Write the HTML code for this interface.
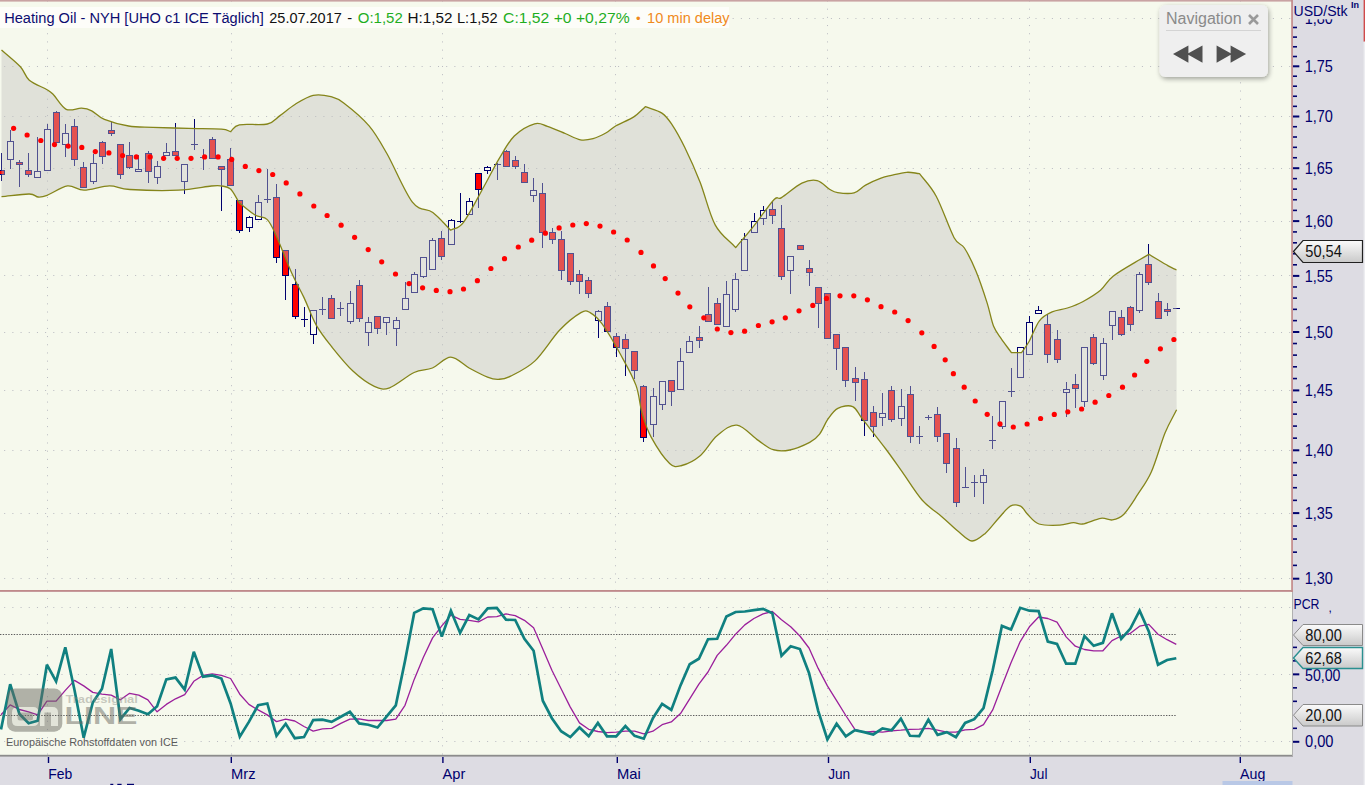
<!DOCTYPE html><html><head><meta charset="utf-8"><style>
html,body{margin:0;padding:0;width:1365px;height:785px;overflow:hidden;background:#dddce3;}
svg{display:block;font-family:"Liberation Sans", sans-serif;}
</style></head><body>
<svg width="1365" height="785" viewBox="0 0 1365 785">
<rect x="0" y="0" width="1365" height="785" fill="#dddce3"/>
<rect x="0" y="0" width="1292" height="591" fill="#f6f9ed"/>
<rect x="0" y="592" width="1292" height="164" fill="#f6f9ed"/>
<defs><clipPath id="osc"><rect x="0" y="593" width="1292" height="162"/></clipPath></defs>
<g stroke="#b9bac0" stroke-width="1" fill="none">
<line x1="4.2" y1="18.5" x2="1291" y2="18.5" stroke-dasharray="1 7.185"/>
<line x1="4.2" y1="66.5" x2="1291" y2="66.5" stroke-dasharray="1 7.185"/>
<line x1="4.2" y1="116.5" x2="1291" y2="116.5" stroke-dasharray="1 7.185"/>
<line x1="4.2" y1="168.5" x2="1291" y2="168.5" stroke-dasharray="1 7.185"/>
<line x1="4.2" y1="221.5" x2="1291" y2="221.5" stroke-dasharray="1 7.185"/>
<line x1="4.2" y1="275.5" x2="1291" y2="275.5" stroke-dasharray="1 7.185"/>
<line x1="4.2" y1="332.5" x2="1291" y2="332.5" stroke-dasharray="1 7.185"/>
<line x1="4.2" y1="390.5" x2="1291" y2="390.5" stroke-dasharray="1 7.185"/>
<line x1="4.2" y1="450.5" x2="1291" y2="450.5" stroke-dasharray="1 7.185"/>
<line x1="4.2" y1="513.5" x2="1291" y2="513.5" stroke-dasharray="1 7.185"/>
<line x1="4.2" y1="578.5" x2="1291" y2="578.5" stroke-dasharray="1 7.185"/>
<line x1="47.5" y1="0.5" x2="47.5" y2="590" stroke-dasharray="1 7.185"/>
<line x1="231.5" y1="0.5" x2="231.5" y2="590" stroke-dasharray="1 7.185"/>
<line x1="442.5" y1="0.5" x2="442.5" y2="590" stroke-dasharray="1 7.185"/>
<line x1="615.5" y1="0.5" x2="615.5" y2="590" stroke-dasharray="1 7.185"/>
<line x1="827.5" y1="0.5" x2="827.5" y2="590" stroke-dasharray="1 7.185"/>
<line x1="1029.5" y1="0.5" x2="1029.5" y2="590" stroke-dasharray="1 7.185"/>
<line x1="1240.5" y1="0.5" x2="1240.5" y2="590" stroke-dasharray="1 7.185"/>
<line x1="4.2" y1="607.5" x2="1291" y2="607.5" stroke-dasharray="1 7.185"/>
<line x1="4.2" y1="674.5" x2="1291" y2="674.5" stroke-dasharray="1 7.185"/>
<line x1="4.2" y1="741.5" x2="1291" y2="741.5" stroke-dasharray="1 7.185"/>
<line x1="47.5" y1="0.5" x2="47.5" y2="755" stroke-dasharray="1 7.185" clip-path="url(#osc)"/>
<line x1="231.5" y1="0.5" x2="231.5" y2="755" stroke-dasharray="1 7.185" clip-path="url(#osc)"/>
<line x1="442.5" y1="0.5" x2="442.5" y2="755" stroke-dasharray="1 7.185" clip-path="url(#osc)"/>
<line x1="615.5" y1="0.5" x2="615.5" y2="755" stroke-dasharray="1 7.185" clip-path="url(#osc)"/>
<line x1="827.5" y1="0.5" x2="827.5" y2="755" stroke-dasharray="1 7.185" clip-path="url(#osc)"/>
<line x1="1029.5" y1="0.5" x2="1029.5" y2="755" stroke-dasharray="1 7.185" clip-path="url(#osc)"/>
<line x1="1240.5" y1="0.5" x2="1240.5" y2="755" stroke-dasharray="1 7.185" clip-path="url(#osc)"/>
</g>
<rect x="0" y="7" width="729" height="21" fill="#fdfdf9"/>
<g shape-rendering="crispEdges">
<rect x="1" y="153" width="1" height="28" fill="#00006e"/>
<rect x="-2" y="170" width="7" height="5" fill="#00006e"/>
<rect x="-1" y="171" width="5" height="3" fill="#ff0000"/>
<rect x="10" y="130" width="1" height="39" fill="#00006e"/>
<rect x="7" y="141" width="7" height="19" fill="#00006e"/>
<rect x="8" y="142" width="5" height="17" fill="#fbfcf3"/>
<rect x="19" y="160" width="1" height="27" fill="#00006e"/>
<rect x="16" y="162" width="7" height="3" fill="#00006e"/>
<rect x="17" y="163" width="5" height="1" fill="#ff0000"/>
<rect x="28" y="153" width="1" height="24" fill="#00006e"/>
<rect x="25" y="170" width="7" height="5" fill="#00006e"/>
<rect x="26" y="171" width="5" height="3" fill="#ff0000"/>
<rect x="37" y="137" width="1" height="40" fill="#00006e"/>
<rect x="34" y="171" width="7" height="7" fill="#00006e"/>
<rect x="35" y="172" width="5" height="5" fill="#fbfcf3"/>
<rect x="47" y="124" width="1" height="46" fill="#00006e"/>
<rect x="44" y="129" width="7" height="42" fill="#00006e"/>
<rect x="45" y="130" width="5" height="40" fill="#fbfcf3"/>
<rect x="56" y="111" width="1" height="32" fill="#00006e"/>
<rect x="53" y="112" width="7" height="31" fill="#00006e"/>
<rect x="54" y="113" width="5" height="29" fill="#ff0000"/>
<rect x="65" y="124" width="1" height="33" fill="#00006e"/>
<rect x="62" y="133" width="7" height="12" fill="#00006e"/>
<rect x="63" y="134" width="5" height="10" fill="#fbfcf3"/>
<rect x="74" y="119" width="1" height="47" fill="#00006e"/>
<rect x="71" y="126" width="7" height="34" fill="#00006e"/>
<rect x="72" y="127" width="5" height="32" fill="#ff0000"/>
<rect x="83" y="162" width="1" height="25" fill="#00006e"/>
<rect x="80" y="167" width="7" height="21" fill="#00006e"/>
<rect x="81" y="168" width="5" height="19" fill="#ff0000"/>
<rect x="93" y="154" width="1" height="30" fill="#00006e"/>
<rect x="90" y="163" width="7" height="19" fill="#00006e"/>
<rect x="91" y="164" width="5" height="17" fill="#fbfcf3"/>
<rect x="102" y="141" width="1" height="23" fill="#00006e"/>
<rect x="99" y="142" width="7" height="15" fill="#00006e"/>
<rect x="100" y="143" width="5" height="13" fill="#ff0000"/>
<rect x="111" y="122" width="1" height="14" fill="#00006e"/>
<rect x="108" y="130" width="7" height="4" fill="#00006e"/>
<rect x="109" y="131" width="5" height="2" fill="#ff0000"/>
<rect x="120" y="144" width="1" height="35" fill="#00006e"/>
<rect x="117" y="144" width="7" height="31" fill="#00006e"/>
<rect x="118" y="145" width="5" height="29" fill="#ff0000"/>
<rect x="129" y="142" width="1" height="27" fill="#00006e"/>
<rect x="126" y="155" width="7" height="13" fill="#00006e"/>
<rect x="127" y="156" width="5" height="11" fill="#ff0000"/>
<rect x="138" y="155" width="1" height="16" fill="#00006e"/>
<rect x="135" y="169" width="7" height="3" fill="#00006e"/>
<rect x="136" y="170" width="5" height="1" fill="#fbfcf3"/>
<rect x="148" y="151" width="1" height="32" fill="#00006e"/>
<rect x="145" y="153" width="7" height="19" fill="#00006e"/>
<rect x="146" y="154" width="5" height="17" fill="#ff0000"/>
<rect x="157" y="161" width="1" height="23" fill="#00006e"/>
<rect x="154" y="166" width="7" height="12" fill="#00006e"/>
<rect x="155" y="167" width="5" height="10" fill="#fbfcf3"/>
<rect x="166" y="143" width="1" height="12" fill="#00006e"/>
<rect x="163" y="152" width="7" height="4" fill="#00006e"/>
<rect x="164" y="153" width="5" height="2" fill="#fbfcf3"/>
<rect x="175" y="123" width="1" height="32" fill="#00006e"/>
<rect x="172" y="151" width="7" height="5" fill="#00006e"/>
<rect x="173" y="152" width="5" height="3" fill="#ff0000"/>
<rect x="184" y="164" width="1" height="30" fill="#00006e"/>
<rect x="181" y="164" width="7" height="18" fill="#00006e"/>
<rect x="182" y="165" width="5" height="16" fill="#fbfcf3"/>
<rect x="194" y="119" width="1" height="31" fill="#00006e"/>
<rect x="191" y="144" width="7" height="1" fill="#00006e"/>
<rect x="203" y="149" width="1" height="21" fill="#00006e"/>
<rect x="200" y="157" width="7" height="1" fill="#00006e"/>
<rect x="212" y="137" width="1" height="22" fill="#00006e"/>
<rect x="209" y="139" width="7" height="20" fill="#00006e"/>
<rect x="210" y="140" width="5" height="18" fill="#ff0000"/>
<rect x="221" y="166" width="1" height="45" fill="#00006e"/>
<rect x="218" y="166" width="7" height="4" fill="#00006e"/>
<rect x="219" y="167" width="5" height="2" fill="#ff0000"/>
<rect x="230" y="148" width="1" height="37" fill="#00006e"/>
<rect x="227" y="159" width="7" height="27" fill="#00006e"/>
<rect x="228" y="160" width="5" height="25" fill="#ff0000"/>
<rect x="239" y="200" width="1" height="33" fill="#00006e"/>
<rect x="236" y="200" width="7" height="31" fill="#00006e"/>
<rect x="237" y="201" width="5" height="29" fill="#ff0000"/>
<rect x="249" y="216" width="1" height="16" fill="#00006e"/>
<rect x="246" y="217" width="7" height="11" fill="#00006e"/>
<rect x="247" y="218" width="5" height="9" fill="#fbfcf3"/>
<rect x="258" y="195" width="1" height="24" fill="#00006e"/>
<rect x="255" y="202" width="7" height="18" fill="#00006e"/>
<rect x="256" y="203" width="5" height="16" fill="#fbfcf3"/>
<rect x="267" y="169" width="1" height="34" fill="#00006e"/>
<rect x="264" y="199" width="7" height="1" fill="#00006e"/>
<rect x="276" y="184" width="1" height="79" fill="#00006e"/>
<rect x="273" y="197" width="7" height="61" fill="#00006e"/>
<rect x="274" y="198" width="5" height="59" fill="#ff0000"/>
<rect x="285" y="250" width="1" height="50" fill="#00006e"/>
<rect x="282" y="250" width="7" height="26" fill="#00006e"/>
<rect x="283" y="251" width="5" height="24" fill="#ff0000"/>
<rect x="295" y="269" width="1" height="50" fill="#00006e"/>
<rect x="292" y="284" width="7" height="33" fill="#00006e"/>
<rect x="293" y="285" width="5" height="31" fill="#ff0000"/>
<rect x="304" y="307" width="1" height="20" fill="#00006e"/>
<rect x="301" y="319" width="7" height="1" fill="#00006e"/>
<rect x="313" y="310" width="1" height="34" fill="#00006e"/>
<rect x="310" y="310" width="7" height="25" fill="#00006e"/>
<rect x="311" y="311" width="5" height="23" fill="#fbfcf3"/>
<rect x="322" y="297" width="1" height="18" fill="#00006e"/>
<rect x="319" y="309" width="7" height="1" fill="#00006e"/>
<rect x="331" y="295" width="1" height="24" fill="#00006e"/>
<rect x="328" y="298" width="7" height="21" fill="#00006e"/>
<rect x="329" y="299" width="5" height="19" fill="#ff0000"/>
<rect x="340" y="302" width="1" height="14" fill="#00006e"/>
<rect x="337" y="308" width="7" height="1" fill="#00006e"/>
<rect x="350" y="291" width="1" height="33" fill="#00006e"/>
<rect x="347" y="303" width="7" height="19" fill="#00006e"/>
<rect x="348" y="304" width="5" height="17" fill="#fbfcf3"/>
<rect x="359" y="280" width="1" height="42" fill="#00006e"/>
<rect x="356" y="285" width="7" height="34" fill="#00006e"/>
<rect x="357" y="286" width="5" height="32" fill="#ff0000"/>
<rect x="368" y="317" width="1" height="29" fill="#00006e"/>
<rect x="365" y="322" width="7" height="11" fill="#00006e"/>
<rect x="366" y="323" width="5" height="9" fill="#fbfcf3"/>
<rect x="377" y="316" width="1" height="18" fill="#00006e"/>
<rect x="374" y="316" width="7" height="13" fill="#00006e"/>
<rect x="375" y="317" width="5" height="11" fill="#ff0000"/>
<rect x="386" y="317" width="1" height="18" fill="#00006e"/>
<rect x="383" y="317" width="7" height="6" fill="#00006e"/>
<rect x="384" y="318" width="5" height="4" fill="#fbfcf3"/>
<rect x="396" y="317" width="1" height="29" fill="#00006e"/>
<rect x="393" y="320" width="7" height="9" fill="#00006e"/>
<rect x="394" y="321" width="5" height="7" fill="#fbfcf3"/>
<rect x="405" y="282" width="1" height="27" fill="#00006e"/>
<rect x="402" y="298" width="7" height="12" fill="#00006e"/>
<rect x="403" y="299" width="5" height="10" fill="#fbfcf3"/>
<rect x="414" y="272" width="1" height="20" fill="#00006e"/>
<rect x="411" y="274" width="7" height="19" fill="#00006e"/>
<rect x="412" y="275" width="5" height="17" fill="#fbfcf3"/>
<rect x="423" y="257" width="1" height="21" fill="#00006e"/>
<rect x="420" y="257" width="7" height="20" fill="#00006e"/>
<rect x="421" y="258" width="5" height="18" fill="#fbfcf3"/>
<rect x="432" y="238" width="1" height="31" fill="#00006e"/>
<rect x="429" y="240" width="7" height="30" fill="#00006e"/>
<rect x="430" y="241" width="5" height="28" fill="#fbfcf3"/>
<rect x="441" y="231" width="1" height="29" fill="#00006e"/>
<rect x="438" y="238" width="7" height="19" fill="#00006e"/>
<rect x="439" y="239" width="5" height="17" fill="#ff0000"/>
<rect x="451" y="219" width="1" height="25" fill="#00006e"/>
<rect x="448" y="220" width="7" height="25" fill="#00006e"/>
<rect x="449" y="221" width="5" height="23" fill="#fbfcf3"/>
<rect x="460" y="193" width="1" height="30" fill="#00006e"/>
<rect x="457" y="221" width="7" height="1" fill="#00006e"/>
<rect x="469" y="198" width="1" height="16" fill="#00006e"/>
<rect x="466" y="201" width="7" height="14" fill="#00006e"/>
<rect x="467" y="202" width="5" height="12" fill="#fbfcf3"/>
<rect x="478" y="173" width="1" height="35" fill="#00006e"/>
<rect x="475" y="173" width="7" height="17" fill="#00006e"/>
<rect x="476" y="174" width="5" height="15" fill="#ff0000"/>
<rect x="487" y="166" width="1" height="8" fill="#00006e"/>
<rect x="484" y="167" width="7" height="4" fill="#00006e"/>
<rect x="485" y="168" width="5" height="2" fill="#fbfcf3"/>
<rect x="497" y="163" width="1" height="17" fill="#00006e"/>
<rect x="494" y="164" width="7" height="1" fill="#00006e"/>
<rect x="506" y="150" width="1" height="16" fill="#00006e"/>
<rect x="503" y="151" width="7" height="16" fill="#00006e"/>
<rect x="504" y="152" width="5" height="14" fill="#ff0000"/>
<rect x="515" y="156" width="1" height="13" fill="#00006e"/>
<rect x="512" y="160" width="7" height="7" fill="#00006e"/>
<rect x="513" y="161" width="5" height="5" fill="#ff0000"/>
<rect x="524" y="164" width="1" height="18" fill="#00006e"/>
<rect x="521" y="172" width="7" height="11" fill="#00006e"/>
<rect x="522" y="173" width="5" height="9" fill="#ff0000"/>
<rect x="533" y="178" width="1" height="24" fill="#00006e"/>
<rect x="530" y="190" width="7" height="6" fill="#00006e"/>
<rect x="531" y="191" width="5" height="4" fill="#fbfcf3"/>
<rect x="542" y="183" width="1" height="65" fill="#00006e"/>
<rect x="539" y="193" width="7" height="40" fill="#00006e"/>
<rect x="540" y="194" width="5" height="38" fill="#ff0000"/>
<rect x="552" y="228" width="1" height="16" fill="#00006e"/>
<rect x="549" y="232" width="7" height="8" fill="#00006e"/>
<rect x="550" y="233" width="5" height="6" fill="#ff0000"/>
<rect x="561" y="231" width="1" height="49" fill="#00006e"/>
<rect x="558" y="239" width="7" height="32" fill="#00006e"/>
<rect x="559" y="240" width="5" height="30" fill="#ff0000"/>
<rect x="570" y="253" width="1" height="32" fill="#00006e"/>
<rect x="567" y="253" width="7" height="29" fill="#00006e"/>
<rect x="568" y="254" width="5" height="27" fill="#ff0000"/>
<rect x="579" y="270" width="1" height="24" fill="#00006e"/>
<rect x="576" y="274" width="7" height="8" fill="#00006e"/>
<rect x="577" y="275" width="5" height="6" fill="#ff0000"/>
<rect x="588" y="277" width="1" height="21" fill="#00006e"/>
<rect x="585" y="280" width="7" height="14" fill="#00006e"/>
<rect x="586" y="281" width="5" height="12" fill="#ff0000"/>
<rect x="598" y="310" width="1" height="28" fill="#00006e"/>
<rect x="595" y="311" width="7" height="10" fill="#00006e"/>
<rect x="596" y="312" width="5" height="8" fill="#fbfcf3"/>
<rect x="607" y="302" width="1" height="29" fill="#00006e"/>
<rect x="604" y="306" width="7" height="26" fill="#00006e"/>
<rect x="605" y="307" width="5" height="24" fill="#ff0000"/>
<rect x="616" y="333" width="1" height="24" fill="#00006e"/>
<rect x="613" y="336" width="7" height="12" fill="#00006e"/>
<rect x="614" y="337" width="5" height="10" fill="#ff0000"/>
<rect x="625" y="334" width="1" height="42" fill="#00006e"/>
<rect x="622" y="339" width="7" height="10" fill="#00006e"/>
<rect x="623" y="340" width="5" height="8" fill="#ff0000"/>
<rect x="634" y="351" width="1" height="28" fill="#00006e"/>
<rect x="631" y="351" width="7" height="20" fill="#00006e"/>
<rect x="632" y="352" width="5" height="18" fill="#ff0000"/>
<rect x="643" y="385" width="1" height="57" fill="#00006e"/>
<rect x="640" y="386" width="7" height="52" fill="#00006e"/>
<rect x="641" y="387" width="5" height="50" fill="#ff0000"/>
<rect x="653" y="388" width="1" height="49" fill="#00006e"/>
<rect x="650" y="396" width="7" height="29" fill="#00006e"/>
<rect x="651" y="397" width="5" height="27" fill="#fbfcf3"/>
<rect x="662" y="381" width="1" height="29" fill="#00006e"/>
<rect x="659" y="381" width="7" height="24" fill="#00006e"/>
<rect x="660" y="382" width="5" height="22" fill="#fbfcf3"/>
<rect x="671" y="380" width="1" height="26" fill="#00006e"/>
<rect x="668" y="380" width="7" height="12" fill="#00006e"/>
<rect x="669" y="381" width="5" height="10" fill="#ff0000"/>
<rect x="680" y="348" width="1" height="41" fill="#00006e"/>
<rect x="677" y="361" width="7" height="29" fill="#00006e"/>
<rect x="678" y="362" width="5" height="27" fill="#fbfcf3"/>
<rect x="689" y="336" width="1" height="16" fill="#00006e"/>
<rect x="686" y="341" width="7" height="12" fill="#00006e"/>
<rect x="687" y="342" width="5" height="10" fill="#fbfcf3"/>
<rect x="699" y="326" width="1" height="22" fill="#00006e"/>
<rect x="696" y="337" width="7" height="4" fill="#00006e"/>
<rect x="697" y="338" width="5" height="2" fill="#ff0000"/>
<rect x="708" y="287" width="1" height="34" fill="#00006e"/>
<rect x="705" y="314" width="7" height="8" fill="#00006e"/>
<rect x="706" y="315" width="5" height="6" fill="#ff0000"/>
<rect x="717" y="298" width="1" height="26" fill="#00006e"/>
<rect x="714" y="303" width="7" height="22" fill="#00006e"/>
<rect x="715" y="304" width="5" height="20" fill="#ff0000"/>
<rect x="726" y="281" width="1" height="45" fill="#00006e"/>
<rect x="723" y="294" width="7" height="33" fill="#00006e"/>
<rect x="724" y="295" width="5" height="31" fill="#fbfcf3"/>
<rect x="735" y="273" width="1" height="39" fill="#00006e"/>
<rect x="732" y="279" width="7" height="31" fill="#00006e"/>
<rect x="733" y="280" width="5" height="29" fill="#fbfcf3"/>
<rect x="744" y="233" width="1" height="37" fill="#00006e"/>
<rect x="741" y="239" width="7" height="32" fill="#00006e"/>
<rect x="742" y="240" width="5" height="30" fill="#fbfcf3"/>
<rect x="754" y="213" width="1" height="19" fill="#00006e"/>
<rect x="751" y="221" width="7" height="12" fill="#00006e"/>
<rect x="752" y="222" width="5" height="10" fill="#fbfcf3"/>
<rect x="763" y="206" width="1" height="19" fill="#00006e"/>
<rect x="760" y="210" width="7" height="9" fill="#00006e"/>
<rect x="761" y="211" width="5" height="7" fill="#fbfcf3"/>
<rect x="772" y="202" width="1" height="22" fill="#00006e"/>
<rect x="769" y="209" width="7" height="7" fill="#00006e"/>
<rect x="770" y="210" width="5" height="5" fill="#ff0000"/>
<rect x="781" y="205" width="1" height="75" fill="#00006e"/>
<rect x="778" y="228" width="7" height="49" fill="#00006e"/>
<rect x="779" y="229" width="5" height="47" fill="#ff0000"/>
<rect x="790" y="256" width="1" height="38" fill="#00006e"/>
<rect x="787" y="256" width="7" height="15" fill="#00006e"/>
<rect x="788" y="257" width="5" height="13" fill="#fbfcf3"/>
<rect x="800" y="245" width="1" height="4" fill="#00006e"/>
<rect x="797" y="245" width="7" height="5" fill="#00006e"/>
<rect x="798" y="246" width="5" height="3" fill="#ff0000"/>
<rect x="809" y="260" width="1" height="26" fill="#00006e"/>
<rect x="806" y="268" width="7" height="5" fill="#00006e"/>
<rect x="807" y="269" width="5" height="3" fill="#ff0000"/>
<rect x="818" y="287" width="1" height="41" fill="#00006e"/>
<rect x="815" y="287" width="7" height="17" fill="#00006e"/>
<rect x="816" y="288" width="5" height="15" fill="#ff0000"/>
<rect x="827" y="293" width="1" height="45" fill="#00006e"/>
<rect x="824" y="293" width="7" height="46" fill="#00006e"/>
<rect x="825" y="294" width="5" height="44" fill="#ff0000"/>
<rect x="836" y="334" width="1" height="36" fill="#00006e"/>
<rect x="833" y="334" width="7" height="15" fill="#00006e"/>
<rect x="834" y="335" width="5" height="13" fill="#ff0000"/>
<rect x="845" y="347" width="1" height="40" fill="#00006e"/>
<rect x="842" y="347" width="7" height="34" fill="#00006e"/>
<rect x="843" y="348" width="5" height="32" fill="#ff0000"/>
<rect x="855" y="367" width="1" height="34" fill="#00006e"/>
<rect x="852" y="378" width="7" height="5" fill="#00006e"/>
<rect x="853" y="379" width="5" height="3" fill="#ff0000"/>
<rect x="864" y="372" width="1" height="64" fill="#00006e"/>
<rect x="861" y="379" width="7" height="42" fill="#00006e"/>
<rect x="862" y="380" width="5" height="40" fill="#ff0000"/>
<rect x="873" y="406" width="1" height="31" fill="#00006e"/>
<rect x="870" y="412" width="7" height="15" fill="#00006e"/>
<rect x="871" y="413" width="5" height="13" fill="#ff0000"/>
<rect x="882" y="393" width="1" height="33" fill="#00006e"/>
<rect x="879" y="413" width="7" height="5" fill="#00006e"/>
<rect x="880" y="414" width="5" height="3" fill="#fbfcf3"/>
<rect x="891" y="386" width="1" height="36" fill="#00006e"/>
<rect x="888" y="390" width="7" height="30" fill="#00006e"/>
<rect x="889" y="391" width="5" height="28" fill="#ff0000"/>
<rect x="901" y="389" width="1" height="37" fill="#00006e"/>
<rect x="898" y="406" width="7" height="13" fill="#00006e"/>
<rect x="899" y="407" width="5" height="11" fill="#fbfcf3"/>
<rect x="910" y="386" width="1" height="57" fill="#00006e"/>
<rect x="907" y="394" width="7" height="43" fill="#00006e"/>
<rect x="908" y="395" width="5" height="41" fill="#ff0000"/>
<rect x="919" y="426" width="1" height="18" fill="#00006e"/>
<rect x="916" y="436" width="7" height="1" fill="#00006e"/>
<rect x="928" y="415" width="1" height="5" fill="#00006e"/>
<rect x="925" y="417" width="7" height="1" fill="#00006e"/>
<rect x="937" y="407" width="1" height="35" fill="#00006e"/>
<rect x="934" y="414" width="7" height="23" fill="#00006e"/>
<rect x="935" y="415" width="5" height="21" fill="#ff0000"/>
<rect x="946" y="433" width="1" height="40" fill="#00006e"/>
<rect x="943" y="433" width="7" height="31" fill="#00006e"/>
<rect x="944" y="434" width="5" height="29" fill="#ff0000"/>
<rect x="956" y="438" width="1" height="69" fill="#00006e"/>
<rect x="953" y="448" width="7" height="55" fill="#00006e"/>
<rect x="954" y="449" width="5" height="53" fill="#ff0000"/>
<rect x="965" y="467" width="1" height="21" fill="#00006e"/>
<rect x="962" y="487" width="7" height="1" fill="#00006e"/>
<rect x="974" y="475" width="1" height="22" fill="#00006e"/>
<rect x="971" y="482" width="7" height="1" fill="#00006e"/>
<rect x="983" y="469" width="1" height="35" fill="#00006e"/>
<rect x="980" y="475" width="7" height="8" fill="#00006e"/>
<rect x="981" y="476" width="5" height="6" fill="#fbfcf3"/>
<rect x="992" y="416" width="1" height="33" fill="#00006e"/>
<rect x="989" y="440" width="7" height="1" fill="#00006e"/>
<rect x="1002" y="401" width="1" height="28" fill="#00006e"/>
<rect x="999" y="401" width="7" height="26" fill="#00006e"/>
<rect x="1000" y="402" width="5" height="24" fill="#fbfcf3"/>
<rect x="1011" y="368" width="1" height="29" fill="#00006e"/>
<rect x="1008" y="391" width="7" height="1" fill="#00006e"/>
<rect x="1020" y="347" width="1" height="30" fill="#00006e"/>
<rect x="1017" y="347" width="7" height="31" fill="#00006e"/>
<rect x="1018" y="348" width="5" height="29" fill="#fbfcf3"/>
<rect x="1029" y="316" width="1" height="38" fill="#00006e"/>
<rect x="1026" y="322" width="7" height="33" fill="#00006e"/>
<rect x="1027" y="323" width="5" height="31" fill="#fbfcf3"/>
<rect x="1038" y="306" width="1" height="7" fill="#00006e"/>
<rect x="1035" y="310" width="7" height="4" fill="#00006e"/>
<rect x="1036" y="311" width="5" height="2" fill="#fbfcf3"/>
<rect x="1047" y="314" width="1" height="49" fill="#00006e"/>
<rect x="1044" y="324" width="7" height="31" fill="#00006e"/>
<rect x="1045" y="325" width="5" height="29" fill="#ff0000"/>
<rect x="1057" y="330" width="1" height="33" fill="#00006e"/>
<rect x="1054" y="339" width="7" height="21" fill="#00006e"/>
<rect x="1055" y="340" width="5" height="19" fill="#ff0000"/>
<rect x="1066" y="382" width="1" height="35" fill="#00006e"/>
<rect x="1063" y="389" width="7" height="4" fill="#00006e"/>
<rect x="1064" y="390" width="5" height="2" fill="#fbfcf3"/>
<rect x="1075" y="374" width="1" height="34" fill="#00006e"/>
<rect x="1072" y="384" width="7" height="5" fill="#00006e"/>
<rect x="1073" y="385" width="5" height="3" fill="#ff0000"/>
<rect x="1084" y="347" width="1" height="60" fill="#00006e"/>
<rect x="1081" y="347" width="7" height="55" fill="#00006e"/>
<rect x="1082" y="348" width="5" height="53" fill="#fbfcf3"/>
<rect x="1093" y="334" width="1" height="31" fill="#00006e"/>
<rect x="1090" y="337" width="7" height="27" fill="#00006e"/>
<rect x="1091" y="338" width="5" height="25" fill="#ff0000"/>
<rect x="1103" y="338" width="1" height="42" fill="#00006e"/>
<rect x="1100" y="343" width="7" height="33" fill="#00006e"/>
<rect x="1101" y="344" width="5" height="31" fill="#fbfcf3"/>
<rect x="1112" y="311" width="1" height="29" fill="#00006e"/>
<rect x="1109" y="311" width="7" height="15" fill="#00006e"/>
<rect x="1110" y="312" width="5" height="13" fill="#fbfcf3"/>
<rect x="1121" y="310" width="1" height="26" fill="#00006e"/>
<rect x="1118" y="317" width="7" height="18" fill="#00006e"/>
<rect x="1119" y="318" width="5" height="16" fill="#ff0000"/>
<rect x="1130" y="306" width="1" height="25" fill="#00006e"/>
<rect x="1127" y="307" width="7" height="18" fill="#00006e"/>
<rect x="1128" y="308" width="5" height="16" fill="#ff0000"/>
<rect x="1139" y="272" width="1" height="41" fill="#00006e"/>
<rect x="1136" y="274" width="7" height="37" fill="#00006e"/>
<rect x="1137" y="275" width="5" height="35" fill="#fbfcf3"/>
<rect x="1148" y="244" width="1" height="41" fill="#00006e"/>
<rect x="1145" y="264" width="7" height="19" fill="#00006e"/>
<rect x="1146" y="265" width="5" height="17" fill="#ff0000"/>
<rect x="1158" y="293" width="1" height="25" fill="#00006e"/>
<rect x="1155" y="301" width="7" height="18" fill="#00006e"/>
<rect x="1156" y="302" width="5" height="16" fill="#ff0000"/>
<rect x="1167" y="303" width="1" height="13" fill="#00006e"/>
<rect x="1164" y="309" width="7" height="3" fill="#00006e"/>
<rect x="1165" y="310" width="5" height="1" fill="#ff0000"/>
<rect x="1176" y="308" width="1" height="1" fill="#00006e"/>
<rect x="1173" y="308" width="7" height="1" fill="#00006e"/>
</g>
<path d="M1.5,49.9 C7.8,55.5 15.8,61.7 20.4,66.7 C25.0,71.8 24.9,76.4 29.3,80.2 C33.8,84.0 43.1,87.3 47.1,89.7 C51.1,92.1 50.3,91.5 53.5,94.8 C56.7,98.1 61.5,107.1 66.2,109.3 C70.9,111.5 77.2,108.0 81.5,108.2 C85.8,108.5 87.9,108.9 91.7,110.8 C95.5,112.7 98.2,116.9 104.4,119.4 C110.6,121.9 120.5,124.7 128.6,126.0 C136.7,127.3 142.8,126.9 152.8,127.3 C162.8,127.7 177.0,128.1 188.4,128.4 C199.8,128.7 214.5,128.6 221.5,129.1 C228.5,129.6 227.5,130.8 230.5,131.7 C233.5,129.4 233.2,126.1 239.4,124.8 C245.6,123.5 260.6,125.5 267.4,124.0 C274.2,122.5 275.4,118.9 280.0,115.6 C284.6,112.3 289.8,107.6 295.3,104.2 C300.8,100.8 307.2,96.6 313.1,95.3 C319.0,94.0 325.8,95.3 330.9,96.6 C336.0,97.9 337.3,98.0 343.7,102.9 C350.1,107.8 361.9,117.3 369.1,125.8 C376.3,134.3 379.8,141.1 387.0,153.8 C394.2,166.5 404.8,192.4 412.4,202.2 C420.0,212.0 426.4,207.7 432.8,212.4 C439.2,217.1 444.7,224.3 450.6,230.2 C454.8,227.7 457.8,229.8 463.3,222.6 C468.8,215.4 477.8,197.6 483.7,187.0 C489.6,176.4 493.9,167.4 499.0,158.9 C504.1,150.4 508.4,141.8 514.3,136.0 C520.2,130.2 529.1,125.4 534.6,123.8 C540.1,122.2 542.3,124.7 547.4,126.3 C552.5,127.9 559.7,131.2 565.2,133.5 C570.7,135.8 575.8,139.0 580.4,139.8 C585.0,140.7 588.9,139.7 593.1,138.6 C597.3,137.5 602.0,135.1 605.8,133.0 C609.6,130.9 611.3,128.5 616.0,125.8 C620.7,123.1 628.9,120.1 633.8,116.9 C638.7,113.7 641.5,110.1 645.3,106.7 C650.8,108.8 657.4,110.1 661.9,113.1 C666.4,116.1 668.2,118.9 672.0,124.6 C675.8,130.3 680.1,137.9 684.8,147.5 C689.5,157.1 694.9,169.0 700.0,181.9 C705.1,194.8 709.3,214.2 715.3,225.1 C721.2,236.0 728.9,240.1 735.7,247.6 C741.6,240.5 747.1,234.4 753.5,226.4 C759.9,218.4 769.2,204.5 773.9,199.7 C778.6,194.9 776.8,200.4 781.5,197.6 C786.2,194.8 795.9,185.9 801.9,183.1 C807.9,180.3 812.5,179.5 817.2,180.6 C821.9,181.7 826.5,187.5 829.9,189.5 C833.3,191.5 833.6,192.0 837.6,192.6 C841.6,193.2 849.4,194.1 854.1,192.8 C858.8,191.6 861.1,187.5 865.6,185.1 C870.1,182.7 876.7,179.8 881.0,178.2 C885.3,176.6 887.0,176.4 891.3,175.4 C895.6,174.4 902.0,172.6 906.7,172.3 C911.4,172.0 915.2,173.2 919.5,173.6 C925.1,181.1 930.4,185.5 936.2,196.2 C942.0,206.9 949.4,229.1 954.1,237.7 C958.8,246.3 960.8,242.4 964.4,248.0 C968.0,253.6 972.1,261.9 975.9,271.0 C979.7,280.1 984.2,293.8 987.1,302.9 C990.0,312.0 991.1,319.9 993.5,325.9 C995.9,331.8 998.2,334.2 1001.2,338.6 C1004.2,343.1 1008.0,347.9 1011.4,352.6 C1014.8,352.6 1018.1,352.6 1021.5,352.6 C1024.1,348.8 1026.2,346.5 1029.2,341.2 C1032.2,335.9 1035.6,325.7 1039.4,320.8 C1043.2,315.9 1047.4,314.0 1052.1,311.9 C1056.8,309.8 1062.3,309.7 1067.4,308.0 C1072.5,306.3 1077.2,304.7 1082.7,301.7 C1088.2,298.7 1095.4,294.4 1100.5,290.2 C1105.6,285.9 1106.5,281.3 1113.1,276.2 C1119.7,271.1 1134.0,263.1 1140.0,259.5 C1146.0,255.9 1146.0,256.1 1149.0,254.4 C1155.4,258.2 1163.6,263.3 1168.2,265.9 C1172.8,268.5 1173.7,268.6 1176.5,270.0 L1176.6,409.8 C1172.8,417.5 1169.3,422.5 1165.1,432.8 C1160.9,443.1 1156.0,461.4 1151.4,471.7 C1146.8,482.0 1142.2,487.6 1137.6,494.7 C1133.0,501.8 1128.1,510.0 1123.9,514.2 C1119.7,518.4 1116.2,519.2 1112.4,519.9 C1108.6,520.6 1105.9,517.6 1100.9,518.3 C1095.9,519.0 1087.2,523.3 1082.6,524.0 C1078.0,524.7 1077.2,522.5 1073.4,522.7 C1069.6,522.9 1065.3,525.0 1059.6,525.2 C1053.9,525.4 1044.3,525.8 1039.0,524.0 C1033.7,522.2 1030.6,517.2 1027.5,514.2 C1024.4,511.2 1023.5,507.5 1020.6,506.1 C1017.7,504.8 1014.0,504.0 1010.3,506.1 C1006.6,508.2 1002.6,514.0 998.4,518.5 C994.2,523.0 989.6,529.6 985.2,533.4 C980.8,537.1 976.3,541.3 971.9,541.0 C967.5,540.7 963.7,535.8 958.7,531.8 C953.7,527.8 948.2,522.1 942.1,516.9 C936.0,511.6 928.9,507.8 922.3,500.3 C915.7,492.9 908.5,480.8 902.4,472.2 C896.3,463.6 892.4,457.8 885.8,449.0 C879.2,440.2 868.1,426.3 862.6,419.2 C857.1,412.1 856.8,408.4 852.7,406.6 C848.6,404.8 841.9,406.2 837.8,408.3 C833.7,410.4 830.9,414.9 827.9,419.2 C824.9,423.5 822.6,430.2 819.6,434.1 C816.6,438.0 814.7,439.8 809.7,442.4 C804.7,445.0 795.9,448.8 789.8,450.0 C783.7,451.2 778.5,451.3 773.2,449.7 C768.0,448.1 764.3,444.5 758.3,440.4 C752.2,436.3 743.8,425.9 736.9,425.1 C730.0,424.3 723.1,430.7 717.0,435.8 C710.9,440.9 706.1,450.8 700.2,455.7 C694.3,460.6 686.9,464.2 681.8,465.5 C676.7,466.8 674.7,468.1 669.6,463.4 C664.5,458.7 655.9,445.8 651.3,437.4 C646.7,429.0 644.5,421.6 642.0,412.9 C639.5,404.2 639.5,395.1 636.0,385.4 C632.5,375.7 626.3,365.0 620.7,354.8 C615.1,344.6 607.4,331.2 602.3,324.2 C597.2,317.2 593.7,314.5 590.1,312.6 C586.5,310.7 586.0,309.7 580.9,312.6 C575.8,315.6 567.1,322.2 559.5,330.3 C551.9,338.4 543.1,353.2 535.0,360.9 C526.9,368.5 516.7,373.1 510.6,376.2 C504.5,379.3 502.2,379.1 498.3,379.3 C494.4,379.5 492.4,379.0 487.5,377.1 C482.6,375.2 475.2,371.3 469.1,368.0 C463.0,364.7 456.9,357.2 450.8,357.2 C444.7,357.2 438.5,365.4 432.4,368.0 C426.3,370.6 421.2,369.2 414.1,372.5 C407.0,375.8 396.2,385.5 389.6,387.8 C383.0,390.1 380.4,389.1 374.3,386.3 C368.2,383.5 360.0,377.6 352.9,371.0 C345.8,364.4 337.6,354.1 331.5,346.5 C325.4,338.9 320.8,333.2 316.2,325.1 C311.6,317.0 308.1,306.3 304.0,297.6 C299.9,288.9 296.3,283.3 291.7,273.1 C287.1,262.9 280.6,245.4 276.5,236.5 C272.4,227.6 270.9,223.2 267.3,219.6 C263.7,216.0 259.6,217.8 255.0,215.0 C250.3,212.2 244.6,207.0 239.4,203.0 C236.4,198.3 233.5,191.8 230.5,189.0 C227.5,186.2 224.7,186.5 221.5,186.0 C218.3,185.5 218.6,185.3 211.4,186.0 C204.2,186.7 191.9,189.6 178.3,190.2 C164.7,190.8 141.4,190.2 129.9,189.5 C118.4,188.8 117.2,185.8 109.5,185.9 C101.8,186.0 91.0,190.2 84.0,190.2 C77.0,190.2 73.7,185.1 67.5,185.9 C61.4,186.8 52.0,193.5 47.1,195.3 C42.2,197.2 41.2,197.2 38.2,197.0 C35.2,196.8 35.4,194.1 29.3,194.0 C23.2,193.9 10.8,195.7 1.5,196.6 Z" fill="rgb(192,194,190)" fill-opacity="0.42" stroke="none"/>
<path d="M1.5,49.9 C7.8,55.5 15.8,61.7 20.4,66.7 C25.0,71.8 24.9,76.4 29.3,80.2 C33.8,84.0 43.1,87.3 47.1,89.7 C51.1,92.1 50.3,91.5 53.5,94.8 C56.7,98.1 61.5,107.1 66.2,109.3 C70.9,111.5 77.2,108.0 81.5,108.2 C85.8,108.5 87.9,108.9 91.7,110.8 C95.5,112.7 98.2,116.9 104.4,119.4 C110.6,121.9 120.5,124.7 128.6,126.0 C136.7,127.3 142.8,126.9 152.8,127.3 C162.8,127.7 177.0,128.1 188.4,128.4 C199.8,128.7 214.5,128.6 221.5,129.1 C228.5,129.6 227.5,130.8 230.5,131.7 C233.5,129.4 233.2,126.1 239.4,124.8 C245.6,123.5 260.6,125.5 267.4,124.0 C274.2,122.5 275.4,118.9 280.0,115.6 C284.6,112.3 289.8,107.6 295.3,104.2 C300.8,100.8 307.2,96.6 313.1,95.3 C319.0,94.0 325.8,95.3 330.9,96.6 C336.0,97.9 337.3,98.0 343.7,102.9 C350.1,107.8 361.9,117.3 369.1,125.8 C376.3,134.3 379.8,141.1 387.0,153.8 C394.2,166.5 404.8,192.4 412.4,202.2 C420.0,212.0 426.4,207.7 432.8,212.4 C439.2,217.1 444.7,224.3 450.6,230.2 C454.8,227.7 457.8,229.8 463.3,222.6 C468.8,215.4 477.8,197.6 483.7,187.0 C489.6,176.4 493.9,167.4 499.0,158.9 C504.1,150.4 508.4,141.8 514.3,136.0 C520.2,130.2 529.1,125.4 534.6,123.8 C540.1,122.2 542.3,124.7 547.4,126.3 C552.5,127.9 559.7,131.2 565.2,133.5 C570.7,135.8 575.8,139.0 580.4,139.8 C585.0,140.7 588.9,139.7 593.1,138.6 C597.3,137.5 602.0,135.1 605.8,133.0 C609.6,130.9 611.3,128.5 616.0,125.8 C620.7,123.1 628.9,120.1 633.8,116.9 C638.7,113.7 641.5,110.1 645.3,106.7 C650.8,108.8 657.4,110.1 661.9,113.1 C666.4,116.1 668.2,118.9 672.0,124.6 C675.8,130.3 680.1,137.9 684.8,147.5 C689.5,157.1 694.9,169.0 700.0,181.9 C705.1,194.8 709.3,214.2 715.3,225.1 C721.2,236.0 728.9,240.1 735.7,247.6 C741.6,240.5 747.1,234.4 753.5,226.4 C759.9,218.4 769.2,204.5 773.9,199.7 C778.6,194.9 776.8,200.4 781.5,197.6 C786.2,194.8 795.9,185.9 801.9,183.1 C807.9,180.3 812.5,179.5 817.2,180.6 C821.9,181.7 826.5,187.5 829.9,189.5 C833.3,191.5 833.6,192.0 837.6,192.6 C841.6,193.2 849.4,194.1 854.1,192.8 C858.8,191.6 861.1,187.5 865.6,185.1 C870.1,182.7 876.7,179.8 881.0,178.2 C885.3,176.6 887.0,176.4 891.3,175.4 C895.6,174.4 902.0,172.6 906.7,172.3 C911.4,172.0 915.2,173.2 919.5,173.6 C925.1,181.1 930.4,185.5 936.2,196.2 C942.0,206.9 949.4,229.1 954.1,237.7 C958.8,246.3 960.8,242.4 964.4,248.0 C968.0,253.6 972.1,261.9 975.9,271.0 C979.7,280.1 984.2,293.8 987.1,302.9 C990.0,312.0 991.1,319.9 993.5,325.9 C995.9,331.8 998.2,334.2 1001.2,338.6 C1004.2,343.1 1008.0,347.9 1011.4,352.6 C1014.8,352.6 1018.1,352.6 1021.5,352.6 C1024.1,348.8 1026.2,346.5 1029.2,341.2 C1032.2,335.9 1035.6,325.7 1039.4,320.8 C1043.2,315.9 1047.4,314.0 1052.1,311.9 C1056.8,309.8 1062.3,309.7 1067.4,308.0 C1072.5,306.3 1077.2,304.7 1082.7,301.7 C1088.2,298.7 1095.4,294.4 1100.5,290.2 C1105.6,285.9 1106.5,281.3 1113.1,276.2 C1119.7,271.1 1134.0,263.1 1140.0,259.5 C1146.0,255.9 1146.0,256.1 1149.0,254.4 C1155.4,258.2 1163.6,263.3 1168.2,265.9 C1172.8,268.5 1173.7,268.6 1176.5,270.0" fill="none" stroke="#85851a" stroke-width="1.3" stroke-linejoin="round"/>
<path d="M1.5,196.6 C10.8,195.7 23.2,193.9 29.3,194.0 C35.4,194.1 35.2,196.8 38.2,197.0 C41.2,197.2 42.2,197.2 47.1,195.3 C52.0,193.5 61.4,186.8 67.5,185.9 C73.7,185.1 77.0,190.2 84.0,190.2 C91.0,190.2 101.8,186.0 109.5,185.9 C117.2,185.8 118.4,188.8 129.9,189.5 C141.4,190.2 164.7,190.8 178.3,190.2 C191.9,189.6 204.2,186.7 211.4,186.0 C218.6,185.3 218.3,185.5 221.5,186.0 C224.7,186.5 227.5,186.2 230.5,189.0 C233.5,191.8 236.4,198.3 239.4,203.0 C244.6,207.0 250.3,212.2 255.0,215.0 C259.6,217.8 263.7,216.0 267.3,219.6 C270.9,223.2 272.4,227.6 276.5,236.5 C280.6,245.4 287.1,262.9 291.7,273.1 C296.3,283.3 299.9,288.9 304.0,297.6 C308.1,306.3 311.6,317.0 316.2,325.1 C320.8,333.2 325.4,338.9 331.5,346.5 C337.6,354.1 345.8,364.4 352.9,371.0 C360.0,377.6 368.2,383.5 374.3,386.3 C380.4,389.1 383.0,390.1 389.6,387.8 C396.2,385.5 407.0,375.8 414.1,372.5 C421.2,369.2 426.3,370.6 432.4,368.0 C438.5,365.4 444.7,357.2 450.8,357.2 C456.9,357.2 463.0,364.7 469.1,368.0 C475.2,371.3 482.6,375.2 487.5,377.1 C492.4,379.0 494.4,379.5 498.3,379.3 C502.2,379.1 504.5,379.3 510.6,376.2 C516.7,373.1 526.9,368.5 535.0,360.9 C543.1,353.2 551.9,338.4 559.5,330.3 C567.1,322.2 575.8,315.6 580.9,312.6 C586.0,309.7 586.5,310.7 590.1,312.6 C593.7,314.5 597.2,317.2 602.3,324.2 C607.4,331.2 615.1,344.6 620.7,354.8 C626.3,365.0 632.5,375.7 636.0,385.4 C639.5,395.1 639.5,404.2 642.0,412.9 C644.5,421.6 646.7,429.0 651.3,437.4 C655.9,445.8 664.5,458.7 669.6,463.4 C674.7,468.1 676.7,466.8 681.8,465.5 C686.9,464.2 694.3,460.6 700.2,455.7 C706.1,450.8 710.9,440.9 717.0,435.8 C723.1,430.7 730.0,424.3 736.9,425.1 C743.8,425.9 752.2,436.3 758.3,440.4 C764.3,444.5 768.0,448.1 773.2,449.7 C778.5,451.3 783.7,451.2 789.8,450.0 C795.9,448.8 804.7,445.0 809.7,442.4 C814.7,439.8 816.6,438.0 819.6,434.1 C822.6,430.2 824.9,423.5 827.9,419.2 C830.9,414.9 833.7,410.4 837.8,408.3 C841.9,406.2 848.6,404.8 852.7,406.6 C856.8,408.4 857.1,412.1 862.6,419.2 C868.1,426.3 879.2,440.2 885.8,449.0 C892.4,457.8 896.3,463.6 902.4,472.2 C908.5,480.8 915.7,492.9 922.3,500.3 C928.9,507.8 936.0,511.6 942.1,516.9 C948.2,522.1 953.7,527.8 958.7,531.8 C963.7,535.8 967.5,540.7 971.9,541.0 C976.3,541.3 980.8,537.1 985.2,533.4 C989.6,529.6 994.2,523.0 998.4,518.5 C1002.6,514.0 1006.6,508.2 1010.3,506.1 C1014.0,504.0 1017.7,504.8 1020.6,506.1 C1023.5,507.5 1024.4,511.2 1027.5,514.2 C1030.6,517.2 1033.7,522.2 1039.0,524.0 C1044.3,525.8 1053.9,525.4 1059.6,525.2 C1065.3,525.0 1069.6,522.9 1073.4,522.7 C1077.2,522.5 1078.0,524.7 1082.6,524.0 C1087.2,523.3 1095.9,519.0 1100.9,518.3 C1105.9,517.6 1108.6,520.6 1112.4,519.9 C1116.2,519.2 1119.7,518.4 1123.9,514.2 C1128.1,510.0 1133.0,501.8 1137.6,494.7 C1142.2,487.6 1146.8,482.0 1151.4,471.7 C1156.0,461.4 1160.9,443.1 1165.1,432.8 C1169.3,422.5 1172.8,417.5 1176.6,409.8" fill="none" stroke="#85851a" stroke-width="1.3" stroke-linejoin="round"/>
<g fill="#ff0000">
<circle cx="13.6" cy="128.3" r="2.6"/>
<circle cx="27.1" cy="135.0" r="2.6"/>
<circle cx="40.8" cy="140.5" r="2.6"/>
<circle cx="54.5" cy="144.6" r="2.6"/>
<circle cx="68.2" cy="146.1" r="2.6"/>
<circle cx="81.8" cy="147.4" r="2.6"/>
<circle cx="95.3" cy="151.6" r="2.6"/>
<circle cx="108.9" cy="152.9" r="2.6"/>
<circle cx="122.6" cy="155.5" r="2.6"/>
<circle cx="136.3" cy="156.9" r="2.6"/>
<circle cx="150.2" cy="156.9" r="2.6"/>
<circle cx="163.6" cy="158.3" r="2.6"/>
<circle cx="177.2" cy="158.3" r="2.6"/>
<circle cx="191.0" cy="158.3" r="2.6"/>
<circle cx="204.6" cy="156.9" r="2.6"/>
<circle cx="218.1" cy="156.9" r="2.6"/>
<circle cx="231.7" cy="159.4" r="2.6"/>
<circle cx="245.3" cy="166.4" r="2.6"/>
<circle cx="258.9" cy="170.6" r="2.6"/>
<circle cx="272.7" cy="174.5" r="2.6"/>
<circle cx="286.2" cy="182.9" r="2.6"/>
<circle cx="299.9" cy="193.9" r="2.6"/>
<circle cx="313.8" cy="206.0" r="2.6"/>
<circle cx="327.1" cy="215.5" r="2.6"/>
<circle cx="341.1" cy="225.2" r="2.6"/>
<circle cx="354.6" cy="237.3" r="2.6"/>
<circle cx="368.2" cy="249.6" r="2.6"/>
<circle cx="381.7" cy="261.8" r="2.6"/>
<circle cx="395.5" cy="274.0" r="2.6"/>
<circle cx="409.1" cy="283.6" r="2.6"/>
<circle cx="422.6" cy="287.8" r="2.6"/>
<circle cx="436.3" cy="290.4" r="2.6"/>
<circle cx="450.0" cy="291.7" r="2.6"/>
<circle cx="463.5" cy="289.0" r="2.6"/>
<circle cx="477.4" cy="280.7" r="2.6"/>
<circle cx="490.9" cy="268.5" r="2.6"/>
<circle cx="504.5" cy="258.7" r="2.6"/>
<circle cx="518.3" cy="247.0" r="2.6"/>
<circle cx="531.7" cy="240.2" r="2.6"/>
<circle cx="545.4" cy="233.2" r="2.6"/>
<circle cx="559.1" cy="227.9" r="2.6"/>
<circle cx="572.8" cy="225.0" r="2.6"/>
<circle cx="586.3" cy="223.6" r="2.6"/>
<circle cx="600.0" cy="226.1" r="2.6"/>
<circle cx="613.6" cy="232.0" r="2.6"/>
<circle cx="627.2" cy="240.0" r="2.6"/>
<circle cx="641.0" cy="252.4" r="2.6"/>
<circle cx="653.5" cy="265.9" r="2.6"/>
<circle cx="665.2" cy="278.6" r="2.6"/>
<circle cx="678.0" cy="293.1" r="2.6"/>
<circle cx="689.8" cy="306.8" r="2.6"/>
<circle cx="703.8" cy="317.8" r="2.6"/>
<circle cx="717.3" cy="329.0" r="2.6"/>
<circle cx="730.9" cy="332.6" r="2.6"/>
<circle cx="744.6" cy="331.2" r="2.6"/>
<circle cx="758.4" cy="325.5" r="2.6"/>
<circle cx="772.1" cy="321.8" r="2.6"/>
<circle cx="785.3" cy="317.8" r="2.6"/>
<circle cx="799.0" cy="310.8" r="2.6"/>
<circle cx="812.8" cy="305.4" r="2.6"/>
<circle cx="826.5" cy="298.4" r="2.6"/>
<circle cx="840.0" cy="295.8" r="2.6"/>
<circle cx="853.8" cy="295.8" r="2.6"/>
<circle cx="867.4" cy="299.8" r="2.6"/>
<circle cx="881.0" cy="306.7" r="2.6"/>
<circle cx="894.7" cy="312.0" r="2.6"/>
<circle cx="908.1" cy="320.6" r="2.6"/>
<circle cx="921.8" cy="332.8" r="2.6"/>
<circle cx="934.1" cy="346.4" r="2.6"/>
<circle cx="945.2" cy="359.8" r="2.6"/>
<circle cx="953.4" cy="373.7" r="2.6"/>
<circle cx="964.2" cy="387.2" r="2.6"/>
<circle cx="975.2" cy="401.0" r="2.6"/>
<circle cx="987.2" cy="414.3" r="2.6"/>
<circle cx="1000.0" cy="423.9" r="2.6"/>
<circle cx="1013.3" cy="427.0" r="2.6"/>
<circle cx="1027.1" cy="424.0" r="2.6"/>
<circle cx="1040.6" cy="418.5" r="2.6"/>
<circle cx="1054.3" cy="414.4" r="2.6"/>
<circle cx="1067.8" cy="411.8" r="2.6"/>
<circle cx="1081.6" cy="409.0" r="2.6"/>
<circle cx="1095.1" cy="402.2" r="2.6"/>
<circle cx="1108.8" cy="395.5" r="2.6"/>
<circle cx="1122.5" cy="387.2" r="2.6"/>
<circle cx="1134.6" cy="375.0" r="2.6"/>
<circle cx="1146.8" cy="361.3" r="2.6"/>
<circle cx="1160.4" cy="348.8" r="2.6"/>
<circle cx="1173.9" cy="339.5" r="2.6"/>
</g>
<rect x="0" y="0" width="1292" height="1.6" fill="#c9a3a3"/>
<rect x="1291.2" y="0" width="1.7" height="592" fill="#c48a8a"/>
<rect x="0" y="590" width="1292.6" height="1.8" fill="#c08a8a"/>
<rect x="0" y="754.8" width="1293" height="1.8" fill="#8c8c8c"/>
<rect x="1292" y="592" width="1" height="164" fill="#b0b0b0"/>
<g stroke="#5e5e5e" stroke-width="1">
<line x1="0" y1="634.5" x2="1176" y2="634.5" stroke-dasharray="1.4 1.35"/>
<line x1="0" y1="715.5" x2="1176" y2="715.5" stroke-dasharray="1.4 1.35"/>
</g>
<path d="M1.0,714.8 L10.2,704.9 L19.4,709.5 L28.6,711.8 L37.7,714.8 L46.9,701.1 L56.1,701.1 L65.3,690.4 L74.5,680.4 L83.7,685.9 L92.8,692.4 L102.0,694.2 L111.2,695.1 L120.4,699.8 L129.6,693.3 L138.8,695.1 L147.9,699.8 L157.1,711.8 L166.3,704.4 L175.5,698.8 L184.7,694.6 L193.8,681.3 L203.0,675.4 L212.2,673.9 L221.4,675.4 L230.6,678.5 L239.8,694.2 L248.9,704.4 L258.1,709.9 L267.3,714.9 L276.5,721.6 L285.7,719.2 L294.8,721.0 L304.0,726.5 L313.2,731.2 L322.4,728.9 L331.6,728.4 L340.8,723.4 L349.9,719.2 L359.1,718.8 L368.3,720.5 L377.5,720.5 L386.7,720.5 L395.8,719.2 L405.0,705.3 L414.2,679.4 L423.4,657.3 L432.6,637.9 L441.8,625.9 L450.9,615.1 L460.1,619.4 L469.3,620.3 L478.5,621.8 L487.7,617.0 L496.8,616.6 L506.0,613.9 L515.2,615.7 L524.4,620.3 L533.6,627.7 L542.8,649.0 L551.9,670.2 L561.1,688.7 L570.3,707.1 L579.5,722.9 L588.7,729.3 L597.9,731.5 L607.0,732.6 L616.2,732.1 L625.4,731.2 L634.6,731.2 L643.8,733.9 L652.9,731.2 L662.1,724.7 L671.3,721.9 L680.5,713.6 L689.7,698.8 L698.9,684.1 L708.0,672.0 L717.2,655.4 L726.4,645.3 L735.6,634.2 L744.8,624.9 L753.9,618.5 L763.1,613.9 L772.3,611.5 L781.5,619.8 L790.7,626.8 L799.9,636.0 L809.0,648.0 L818.2,668.4 L827.4,685.9 L836.6,700.7 L845.8,715.5 L854.9,729.3 L864.1,732.1 L873.3,731.5 L882.5,732.1 L891.7,730.8 L900.9,730.2 L910.0,729.3 L919.2,729.1 L928.4,728.4 L937.6,730.2 L946.8,732.1 L955.9,732.1 L965.1,729.9 L974.3,729.3 L983.5,724.7 L992.7,709.9 L1001.9,685.9 L1011.0,662.8 L1020.2,641.6 L1029.4,626.8 L1038.6,617.0 L1047.8,618.5 L1057.0,622.2 L1066.1,636.9 L1075.3,646.2 L1084.5,649.5 L1093.7,650.8 L1102.9,650.8 L1112.0,640.6 L1121.2,636.0 L1130.4,633.3 L1139.6,626.2 L1148.8,624.4 L1158.0,634.2 L1167.1,639.7 L1176.3,644.3" fill="none" stroke="#9b1f9b" stroke-width="1.3" stroke-linejoin="round"/>
<path d="M1.0,729.4 L10.2,684.2 L19.4,714.0 L28.6,723.3 L37.7,720.7 L46.9,664.7 L56.1,681.4 L65.3,647.3 L74.5,690.0 L83.7,737.7 L92.8,702.5 L102.0,688.7 L111.2,649.0 L120.4,719.2 L129.6,708.0 L138.8,710.8 L147.9,714.2 L157.1,706.2 L166.3,679.4 L175.5,677.6 L184.7,689.6 L193.8,651.7 L203.0,676.7 L212.2,675.4 L221.4,678.5 L230.6,703.5 L239.8,736.7 L248.9,721.9 L258.1,705.3 L267.3,703.5 L276.5,735.8 L285.7,723.8 L294.8,738.2 L304.0,737.1 L313.2,720.1 L322.4,719.7 L331.6,721.9 L340.8,716.8 L349.9,711.8 L359.1,723.4 L368.3,724.7 L377.5,727.5 L386.7,716.4 L395.8,705.3 L405.0,661.0 L414.2,612.9 L423.4,608.3 L432.6,609.2 L441.8,636.6 L450.9,610.7 L460.1,632.9 L469.3,615.1 L478.5,619.4 L487.7,608.3 L496.8,607.8 L506.0,619.7 L515.2,620.0 L524.4,638.8 L533.6,650.8 L542.8,700.7 L551.9,718.2 L561.1,731.2 L570.3,737.1 L579.5,727.5 L588.7,736.3 L597.9,722.9 L607.0,736.3 L616.2,736.3 L625.4,726.0 L634.6,735.8 L643.8,738.7 L652.9,718.2 L662.1,703.8 L671.3,709.9 L680.5,685.4 L689.7,664.3 L698.9,658.7 L708.0,639.2 L717.2,638.8 L726.4,616.6 L735.6,612.0 L744.8,611.5 L753.9,610.2 L763.1,608.9 L772.3,613.3 L781.5,655.8 L790.7,646.2 L799.9,649.0 L809.0,673.0 L818.2,710.8 L827.4,739.5 L836.6,723.8 L845.8,736.3 L854.9,730.2 L864.1,732.1 L873.3,734.5 L882.5,728.4 L891.7,730.2 L900.9,718.6 L910.0,735.8 L919.2,736.2 L928.4,719.7 L937.6,734.9 L946.8,732.1 L955.9,737.1 L965.1,722.9 L974.3,719.2 L983.5,708.1 L992.7,670.2 L1001.9,625.9 L1011.0,629.6 L1020.2,607.8 L1029.4,610.7 L1038.6,611.1 L1047.8,641.6 L1057.0,643.9 L1066.1,663.7 L1075.3,663.7 L1084.5,636.0 L1093.7,645.8 L1102.9,642.9 L1112.0,613.3 L1121.2,638.8 L1130.4,628.6 L1139.6,610.7 L1148.8,631.4 L1158.0,664.7 L1167.1,660.0 L1176.3,658.2" fill="none" stroke="#108080" stroke-width="2.7" stroke-linejoin="miter" stroke-miterlimit="3"/>
<defs><mask id="wm"><rect x="0" y="680" width="200" height="60" fill="white"/><path fill-rule="evenodd" fill="#484848" d="M17.5,707 H33 Q38.5,707 38.5,712.5 V720.5 Q38.5,726 33,726 H17.5 Q12,726 12,720.5 V712.5 Q12,707 17.5,707 Z M20,712.5 H30.5 Q33,712.5 33,715 V718 Q33,720.5 30.5,720.5 H20 Q17.5,720.5 17.5,718 V715 Q17.5,712.5 20,712.5 Z"/><path fill="#484848" d="M40,707 H52.5 Q58,707 58,712.5 V726 H51 V712.5 H44.5 V726 H40 Z"/></mask></defs>
<g mask="url(#wm)">
<rect x="7" y="688.5" width="55.3" height="43.2" rx="8" fill="#6a6a62" fill-opacity="0.5"/>
</g>
<text x="64.5" y="724.4" font-size="23.5" font-weight="bold" fill="#6a6a62" fill-opacity="0.5" textLength="73" lengthAdjust="spacingAndGlyphs">LINE</text>
<text x="65.5" y="702.8" font-size="10.5" font-weight="bold" fill="#8a8a82" fill-opacity="0.45" textLength="72.5" lengthAdjust="spacingAndGlyphs">Tradesignal</text>
<text x="6" y="745.5" font-size="11" fill="#5a5a5a" textLength="172" lengthAdjust="spacingAndGlyphs">Europäische Rohstoffdaten von ICE</text>
<text x="4.2" y="22.8" font-size="14.7" fill="#0c0c70" textLength="259.5" lengthAdjust="spacingAndGlyphs">Heating Oil - NYH [UHO c1 ICE Täglich]</text>
<text x="269.3" y="22.8" font-size="14.7" fill="#111" textLength="72.5" lengthAdjust="spacingAndGlyphs">25.07.2017</text>
<text x="347.2" y="22.8" font-size="14.7" fill="#111">-</text>
<text x="357.8" y="22.8" font-size="14.7" fill="#1fae1f" textLength="45" lengthAdjust="spacingAndGlyphs">O:1,52</text>
<text x="407.6" y="22.8" font-size="14.7" fill="#111" textLength="45" lengthAdjust="spacingAndGlyphs">H:1,52</text>
<text x="457" y="22.8" font-size="14.7" fill="#111" textLength="40.5" lengthAdjust="spacingAndGlyphs">L:1,52</text>
<text x="503.1" y="22.8" font-size="14.7" fill="#1fae1f" textLength="126.5" lengthAdjust="spacingAndGlyphs">C:1,52 +0 +0,27%</text>
<text x="636" y="22.8" font-size="13" fill="#f08a1c">•</text>
<text x="647.1" y="22.8" font-size="14.7" fill="#f08a1c" textLength="82.5" lengthAdjust="spacingAndGlyphs">10 min delay</text>
<defs><filter id="sh" x="-20%" y="-20%" width="140%" height="150%"><feGaussianBlur in="SourceAlpha" stdDeviation="2.5"/><feOffset dx="1" dy="2"/><feComponentTransfer><feFuncA type="linear" slope="0.35"/></feComponentTransfer><feMerge><feMergeNode/><feMergeNode in="SourceGraphic"/></feMerge></filter></defs>
<rect x="1159.5" y="5" width="108.5" height="72" rx="6" fill="#efefef" filter="url(#sh)"/>
<text x="1166" y="24" font-size="16" fill="#8a8a8a">Navigation</text>
<path d="M1249,15 L1258,24 M1258,15 L1249,24" stroke="#9a9a9a" stroke-width="2.6"/>
<rect x="1166" y="30" width="95" height="1" fill="#d4d4d4"/>
<path d="M1173,54 L1188.4,45.5 L1188.4,62.8 Z M1187,54 L1202.5,45.5 L1202.5,62.8 Z" fill="#505050"/>
<path d="M1216.6,45.5 L1232,54 L1216.6,62.8 Z M1230.6,45.5 L1246.1,54 L1230.6,62.8 Z" fill="#505050"/>
<g fill="#00006e">
<rect x="1293" y="577.70" width="6.3" height="2" />
<rect x="1293" y="564.58" width="4" height="1.6" />
<rect x="1293" y="551.36" width="4" height="1.6" />
<rect x="1293" y="538.24" width="4" height="1.6" />
<rect x="1293" y="525.22" width="4" height="1.6" />
<rect x="1293" y="512.10" width="6.3" height="2" />
<rect x="1293" y="499.56" width="4" height="1.6" />
<rect x="1293" y="486.91" width="4" height="1.6" />
<rect x="1293" y="474.35" width="4" height="1.6" />
<rect x="1293" y="461.88" width="4" height="1.6" />
<rect x="1293" y="449.30" width="6.3" height="2" />
<rect x="1293" y="437.35" width="4" height="1.6" />
<rect x="1293" y="425.29" width="4" height="1.6" />
<rect x="1293" y="413.31" width="4" height="1.6" />
<rect x="1293" y="401.41" width="4" height="1.6" />
<rect x="1293" y="389.40" width="6.3" height="2" />
<rect x="1293" y="377.76" width="4" height="1.6" />
<rect x="1293" y="366.00" width="4" height="1.6" />
<rect x="1293" y="354.32" width="4" height="1.6" />
<rect x="1293" y="342.72" width="4" height="1.6" />
<rect x="1293" y="331.00" width="6.3" height="2" />
<rect x="1293" y="319.83" width="4" height="1.6" />
<rect x="1293" y="308.54" width="4" height="1.6" />
<rect x="1293" y="297.32" width="4" height="1.6" />
<rect x="1293" y="286.17" width="4" height="1.6" />
<rect x="1293" y="274.90" width="6.3" height="2" />
<rect x="1293" y="264.00" width="4" height="1.6" />
<rect x="1293" y="252.97" width="4" height="1.6" />
<rect x="1293" y="242.01" width="4" height="1.6" />
<rect x="1293" y="231.12" width="4" height="1.6" />
<rect x="1293" y="220.10" width="6.3" height="2" />
<rect x="1293" y="209.59" width="4" height="1.6" />
<rect x="1293" y="198.94" width="4" height="1.6" />
<rect x="1293" y="188.37" width="4" height="1.6" />
<rect x="1293" y="177.85" width="4" height="1.6" />
<rect x="1293" y="167.20" width="6.3" height="2" />
<rect x="1293" y="156.94" width="4" height="1.6" />
<rect x="1293" y="146.53" width="4" height="1.6" />
<rect x="1293" y="136.20" width="4" height="1.6" />
<rect x="1293" y="125.92" width="4" height="1.6" />
<rect x="1293" y="115.50" width="6.3" height="2" />
<rect x="1293" y="105.54" width="4" height="1.6" />
<rect x="1293" y="95.45" width="4" height="1.6" />
<rect x="1293" y="85.41" width="4" height="1.6" />
<rect x="1293" y="75.42" width="4" height="1.6" />
<rect x="1293" y="65.30" width="6.3" height="2" />
<rect x="1293" y="55.71" width="4" height="1.6" />
<rect x="1293" y="45.98" width="4" height="1.6" />
<rect x="1293" y="36.30" width="4" height="1.6" />
<rect x="1293" y="26.67" width="4" height="1.6" />
</g>
<text x="1304.7" y="71.9" font-size="16.2" fill="#00006e" textLength="28.2" lengthAdjust="spacingAndGlyphs">1,75</text>
<text x="1304.7" y="122.1" font-size="16.2" fill="#00006e" textLength="28.2" lengthAdjust="spacingAndGlyphs">1,70</text>
<text x="1304.7" y="173.8" font-size="16.2" fill="#00006e" textLength="28.2" lengthAdjust="spacingAndGlyphs">1,65</text>
<text x="1304.7" y="226.7" font-size="16.2" fill="#00006e" textLength="28.2" lengthAdjust="spacingAndGlyphs">1,60</text>
<text x="1304.7" y="281.5" font-size="16.2" fill="#00006e" textLength="28.2" lengthAdjust="spacingAndGlyphs">1,55</text>
<text x="1304.7" y="337.6" font-size="16.2" fill="#00006e" textLength="28.2" lengthAdjust="spacingAndGlyphs">1,50</text>
<text x="1304.7" y="396.0" font-size="16.2" fill="#00006e" textLength="28.2" lengthAdjust="spacingAndGlyphs">1,45</text>
<text x="1304.7" y="455.9" font-size="16.2" fill="#00006e" textLength="28.2" lengthAdjust="spacingAndGlyphs">1,40</text>
<text x="1304.7" y="518.7" font-size="16.2" fill="#00006e" textLength="28.2" lengthAdjust="spacingAndGlyphs">1,35</text>
<text x="1304.7" y="584.3" font-size="16.2" fill="#00006e" textLength="28.2" lengthAdjust="spacingAndGlyphs">1,30</text>
<text x="1304.7" y="23.5" font-size="16.2" fill="#00006e" textLength="28.2" lengthAdjust="spacingAndGlyphs">1,80</text>
<rect x="1294" y="0" width="60" height="19.3" fill="#dddce3"/>
<text x="1293.5" y="15.5" font-size="15" fill="#00006e" textLength="54" lengthAdjust="spacingAndGlyphs">USD/Stk</text>
<text x="1351" y="8" font-size="9" font-weight="bold" fill="#00006e">In</text>
<rect x="1363.6" y="0" width="1.4" height="41.7" fill="#d04a4a"/><rect x="1363.6" y="41.7" width="1.4" height="744" fill="#ededf1"/>
<defs><linearGradient id="g240" x1="0" y1="0" x2="0" y2="1"><stop offset="0" stop-color="#fbfbfb"/><stop offset="1" stop-color="#c9c9c9"/></linearGradient></defs>
<path d="M1293.5,251.5 L1303,240.5 L1362.5,240.5 L1362.5,262.5 L1303,262.5 Z" fill="url(#g240)" stroke="#202020" stroke-width="1.2"/>
<text x="1305.3" y="257.3" font-size="16.4" fill="#111" textLength="36.6" lengthAdjust="spacingAndGlyphs">50,54</text>
<text x="1293.5" y="608.5" font-size="14" fill="#00006e" textLength="26" lengthAdjust="spacingAndGlyphs">PCR</text>
<g fill="#00006e">
<rect x="1293" y="740.80" width="6.3" height="2"/>
<rect x="1293" y="727.51" width="4" height="1.6"/>
<rect x="1293" y="700.53" width="4" height="1.6"/>
<rect x="1293" y="687.04" width="4" height="1.6"/>
<rect x="1293" y="673.35" width="6.3" height="2"/>
<rect x="1293" y="660.06" width="4" height="1.6"/>
<rect x="1293" y="646.57" width="4" height="1.6"/>
<rect x="1293" y="619.59" width="4" height="1.6"/>
</g>
<text x="1328.5" y="612" font-size="12" fill="#00006e">,</text>
<text x="1305" y="680.5" font-size="16.2" fill="#00006e" textLength="35.5" lengthAdjust="spacingAndGlyphs">50,00</text>
<text x="1305" y="747" font-size="16.2" fill="#00006e" textLength="28.5" lengthAdjust="spacingAndGlyphs">0,00</text>
<defs><linearGradient id="g624" x1="0" y1="0" x2="0" y2="1"><stop offset="0" stop-color="#fbfbfb"/><stop offset="1" stop-color="#c9c9c9"/></linearGradient></defs>
<path d="M1293.5,635.0 L1303,624.5 L1362.5,624.5 L1362.5,645.5 L1303,645.5 Z" fill="url(#g624)" stroke="#8a8a8a" stroke-width="1"/>
<text x="1305.3" y="640.8" font-size="16.4" fill="#111" textLength="36.6" lengthAdjust="spacingAndGlyphs">80,00</text>
<defs><linearGradient id="g704" x1="0" y1="0" x2="0" y2="1"><stop offset="0" stop-color="#fbfbfb"/><stop offset="1" stop-color="#c9c9c9"/></linearGradient></defs>
<path d="M1293.5,715.2 L1303,704.5 L1362.5,704.5 L1362.5,726.0 L1303,726.0 Z" fill="url(#g704)" stroke="#8a8a8a" stroke-width="1"/>
<text x="1305.3" y="721.0" font-size="16.4" fill="#111" textLength="36.6" lengthAdjust="spacingAndGlyphs">20,00</text>
<defs><linearGradient id="g647" x1="0" y1="0" x2="0" y2="1"><stop offset="0" stop-color="#fbfbfb"/><stop offset="1" stop-color="#c9c9c9"/></linearGradient></defs>
<path d="M1293.5,658.0 L1303,647.5 L1362.5,647.5 L1362.5,668.5 L1303,668.5 Z" fill="url(#g647)" stroke="#2a9090" stroke-width="1.4"/>
<text x="1305.3" y="663.8" font-size="16.4" fill="#111" textLength="36.6" lengthAdjust="spacingAndGlyphs">62,68</text>
<rect x="47.8" y="757" width="1.4" height="6" fill="#00006e"/>
<text x="48.2" y="779" font-size="15" fill="#00006e" textLength="24" lengthAdjust="spacingAndGlyphs">Feb</text>
<rect x="230.6" y="757" width="1.4" height="6" fill="#00006e"/>
<text x="231.0" y="779" font-size="15" fill="#00006e" textLength="24.5" lengthAdjust="spacingAndGlyphs">Mrz</text>
<rect x="442.2" y="757" width="1.4" height="6" fill="#00006e"/>
<text x="442.6" y="779" font-size="15" fill="#00006e" textLength="22.8" lengthAdjust="spacingAndGlyphs">Apr</text>
<rect x="616.6" y="757" width="1.4" height="6" fill="#00006e"/>
<text x="617.0" y="779" font-size="15" fill="#00006e" textLength="23.8" lengthAdjust="spacingAndGlyphs">Mai</text>
<rect x="827.8" y="757" width="1.4" height="6" fill="#00006e"/>
<text x="828.2" y="779" font-size="15" fill="#00006e" textLength="22" lengthAdjust="spacingAndGlyphs">Jun</text>
<rect x="1029.6" y="757" width="1.4" height="6" fill="#00006e"/>
<text x="1030.0" y="779" font-size="15" fill="#00006e" textLength="17.5" lengthAdjust="spacingAndGlyphs">Jul</text>
<rect x="1239.6" y="757" width="1.4" height="6" fill="#00006e"/>
<text x="1240.0" y="779" font-size="15" fill="#00006e" textLength="25.3" lengthAdjust="spacingAndGlyphs">Aug</text>
<rect x="1222.5" y="781" width="70" height="4" fill="#b9c8e6"/>
<rect x="110.3" y="783.8" width="3" height="1.2" fill="#00006e"/><rect x="117.3" y="783.8" width="4.3" height="1.2" fill="#00006e"/><rect x="127" y="783.8" width="7" height="1.2" fill="#00006e"/>
</svg></body></html>
